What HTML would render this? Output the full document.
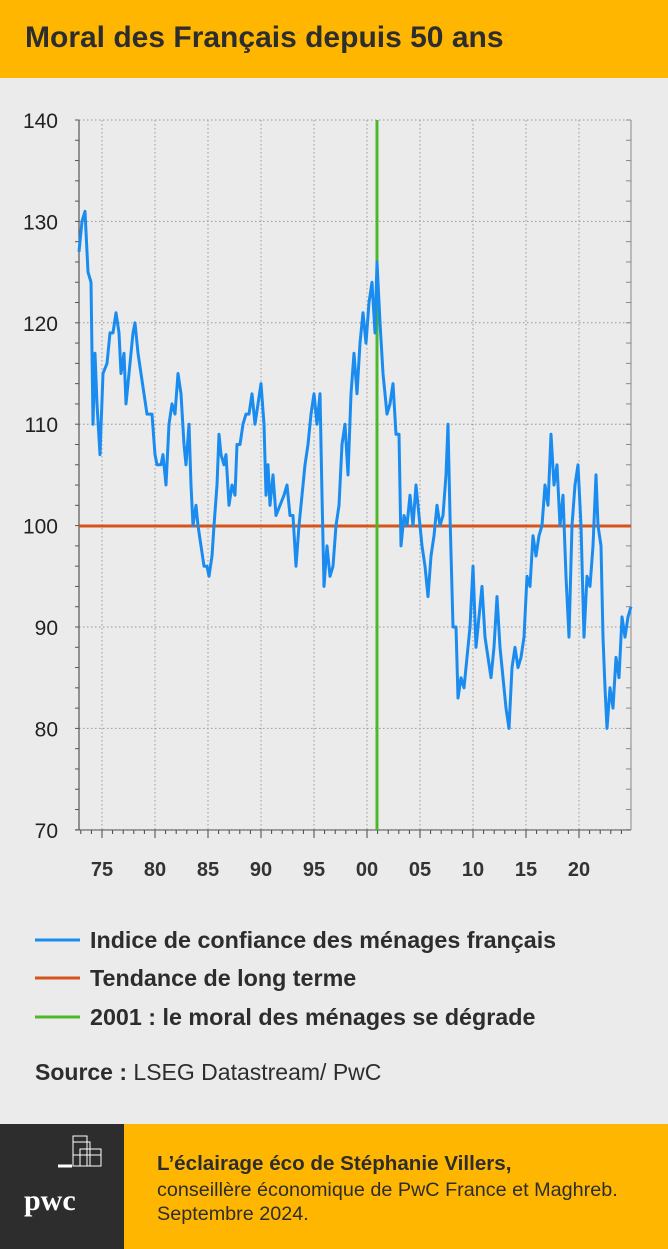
<!DOCTYPE html><html><head><meta charset="utf-8"><style>
body{margin:0;width:668px;height:1249px;background:#ebebeb;font-family:"Liberation Sans",Arial,sans-serif;position:relative;overflow:hidden}
.hd{position:absolute;left:0;top:0;width:668px;height:78px;background:#ffb600}
.hd div{position:absolute;left:25px;top:21px;font-size:30px;font-weight:bold;color:#2d2d2d}
.ft{position:absolute;left:0;top:1124px;width:668px;height:125px;background:#ffb600}
.dk{position:absolute;left:0;top:0;width:124px;height:125px;background:#2d2d2d}
.t{position:absolute;color:#2d2d2d;white-space:nowrap}
</style></head><body>
<div class="hd"><div>Moral des Français depuis 50 ans</div></div>
<svg width="668" height="1249" style="position:absolute;left:0;top:0">
<g id="g" stroke="#999" stroke-dasharray="1.5 2.5" stroke-width="1"></g>
<g id="ax"></g>
<line x1="79" y1="120" x2="79" y2="830" stroke="#555" stroke-width="1.2"/>
<line x1="631" y1="120" x2="631" y2="830" stroke="#888" stroke-width="1"/>
<line x1="79" y1="526" x2="631" y2="526" stroke="#d4541c" stroke-width="3"/>
<line x1="377" y1="120" x2="377" y2="830" stroke="#4cb82a" stroke-width="3"/>
<polyline id="s" fill="none" stroke="#1a8cf0" stroke-width="3" stroke-linejoin="round"/>
<line x1="35" y1="940" x2="80" y2="940" stroke="#1a8cf0" stroke-width="3"/>
<line x1="35" y1="978" x2="80" y2="978" stroke="#d4541c" stroke-width="3"/>
<line x1="35" y1="1017" x2="80" y2="1017" stroke="#4cb82a" stroke-width="3"/>
</svg>
<div class="t" style="left:90px;top:927px;font-size:23.3px;font-weight:bold">Indice de confiance des ménages français</div>
<div class="t" style="left:90px;top:965px;font-size:23.3px;font-weight:bold">Tendance de long terme</div>
<div class="t" style="left:90px;top:1004px;font-size:23.3px;font-weight:bold">2001 : le moral des ménages se dégrade</div>
<div class="t" style="left:35px;top:1059px;font-size:23px"><b>Source :</b> LSEG Datastream/ PwC</div>
<div class="ft"><div class="dk">
<svg width="124" height="125" style="position:absolute;left:0;top:0"><g fill="none" stroke="#fff" stroke-width="1"><rect x="73" y="12" width="14" height="30"/><rect x="73" y="18" width="17" height="24"/><rect x="80" y="25" width="21" height="17"/><rect x="73" y="31" width="28" height="11"/><line x1="58" y1="42" x2="72" y2="42" stroke-width="3"/></g>
<text x="24" y="86" fill="#fff" font-family="Liberation Serif,serif" font-weight="bold" font-size="30">pwc</text></svg></div>
<div class="t" style="left:157px;top:28px;font-size:20.6px;font-weight:bold">L’éclairage éco de Stéphanie Villers,</div>
<div class="t" style="left:157px;top:55px;font-size:19.8px">conseillère économique de PwC France et Maghreb.</div>
<div class="t" style="left:157px;top:79px;font-size:19.8px">Septembre 2024.</div>
</div>
<script>
var Y=v=>120+(140-v)*10.14,ns="http://www.w3.org/2000/svg",g=document.getElementById('g'),ax=document.getElementById('ax');
function el(p,t,a,txt){var e=document.createElementNS(ns,t);for(var k in a)e.setAttribute(k,a[k]);if(txt)e.textContent=txt;p.appendChild(e);return e}
for(var v=70;v<=140;v+=10){el(g,'line',{x1:79,x2:631,y1:Y(v),y2:Y(v)});el(ax,'text',{x:58,y:Y(v)+8,'text-anchor':'end','font-size':21,fill:'#222'},v)}
for(var v=70;v<=140;v+=2){el(ax,'line',{x1:75,x2:79,y1:Y(v),y2:Y(v),stroke:'#555'});el(ax,'line',{x1:626,x2:631,y1:Y(v),y2:Y(v),stroke:'#888'})}
var lab=['75','80','85','90','95','00','05','10','15','20'];
for(var i=0;i<10;i++){var x=102+i*53;el(g,'line',{x1:x,x2:x,y1:120,y2:830});el(ax,'text',{x:x,y:876,'text-anchor':'middle','font-size':20,'font-weight':'bold',fill:'#333'},lab[i])}
for(var yr=1973;yr<=2024;yr++){var x=102+(yr-1975)*10.6;el(ax,'line',{x1:x,x2:x,y1:830,y2:(yr%5==0?838:834),stroke:'#444'})}
el(ax,'line',{x1:75,x2:631,y1:830,y2:830,stroke:'#555'});
var d=[79,127,82,130,85,131,88,125,91,124,93,110,95,117,97,112,100,107,103,115,107,116,110,119,113,119,116,121,119,119,121,115,124,117,126,112,129,115,133,119,135,120,138,117,141,115,144,113,147,111,152,111,155,107,157,106,161,106,163,107,166,104,169,110,172,112,175,111,178,115,181,113,184,108,186,106,189,110,191,104,193,100,196,102,198,100,201,98,204,96,207,96,209,95,212,97,214,100,217,104,219,109,221,107,224,106,226,107,229,102,232,104,235,103,237,108,240,108,243,110,246,111,249,111,252,113,255,110,258,112,261,114,264,110,266,103,268,106,270,102,273,105,276,101,280,102,284,103,287,104,290,101,293,101,296,96,299,100,302,103,305,106,308,108,311,111,314,113,317,110,320,113,322,103,324,94,327,98,330,95,333,96,336,100,339,102,342,108,345,110,348,105,351,113,354,117,357,113,360,118,363,121,366,118,369,122,372,124,375,119,377,126,380,120,383,115,385,113,387,111,390,112,393,114,396,109,399,109,401,98,404,101,407,100,410,103,413,100,416,104,419,101,422,98,425,96,428,93,431,97,434,99,437,102,440,100,443,101,446,105,448,110,450,101,453,90,456,90,458,83,461,85,464,84,467,87,470,90,473,96,476,88,479,91,482,94,485,89,488,87,491,85,494,88,497,93,500,88,503,85,506,82,509,80,512,86,515,88,518,86,521,87,524,89,527,95,530,94,533,99,536,97,539,99,542,100,545,104,548,102,551,109,554,104,557,106,560,100,563,103,566,95,569,89,572,100,575,104,578,106,581,100,584,89,587,95,590,94,593,98,596,105,598,100,601,98,603,89,605,84,607,80,610,84,613,82,616,87,619,85,622,91,625,89,628,91,631,92];
var p=[];for(var i=0;i<d.length;i+=2)p.push(d[i]+','+Y(d[i+1]).toFixed(1));
document.getElementById('s').setAttribute('points',p.join(' '));
</script>
</body></html>
